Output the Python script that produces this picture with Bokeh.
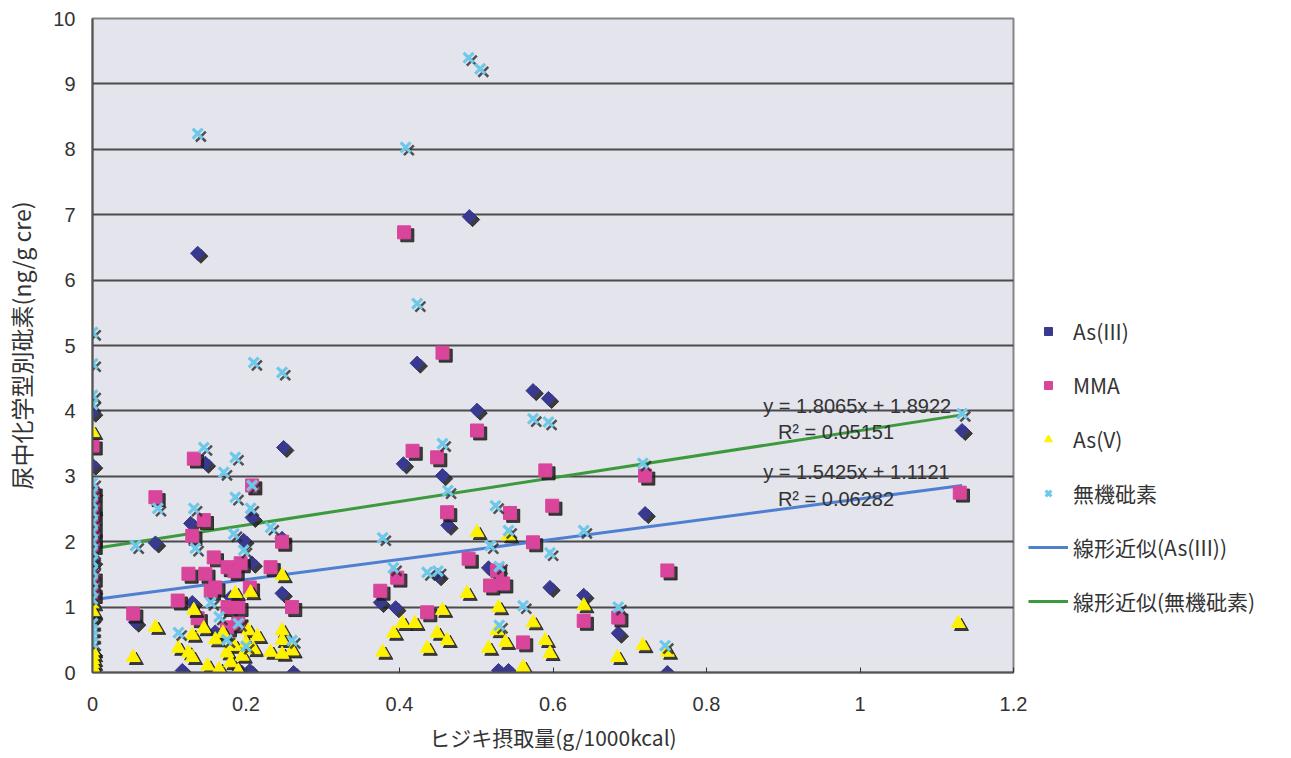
import math
from bokeh.plotting import figure
from bokeh.models import (ColumnDataSource, Legend, LegendItem, Label, Range1d,
                          FixedTicker, CustomJSTickFormatter)
from bokeh.transform import dodge
from bokeh.embed import file_html
from bokeh.resources import INLINE

# ---------------- data ----------------
as3_x = [0, 0, 0, 0, 0, 0, 0, 0,
         0.056, 0.082, 0.117, 0.128, 0.13, 0.137, 0.147, 0.16, 0.18, 0.19, 0.197, 0.205,
         0.208, 0.208, 0.249, 0.247, 0.247, 0.262, 0.375, 0.395, 0.405, 0.423, 0.45, 0.456,
         0.463, 0.491, 0.501, 0.516, 0.529, 0.542, 0.574, 0.594, 0.596, 0.64, 0.685, 0.72,
         0.749, 1.133]
as3_y = [3.98, 3.17, 2.75, 2.45, 1.7, 1.25, 0.85, 0.3,
         0.77, 1.98, 0.03, 2.28, 1.07, 6.41, 3.2, 0.62, 1.15, 0.05, 2.02, 0.03,
         1.67, 2.37, 3.44, 2.05, 1.21, 0.0, 1.07, 0.99, 3.19, 4.73, 1.48, 3.01,
         2.25, 6.97, 4.01, 1.6, 0.03, 0.03, 4.31, 4.19, 1.3, 1.18, 0.6, 2.43,
         0.0, 3.7]

mma_x = [0, 0, 0, 0, 0, 0, 0, 0, 0,
         0.053, 0.082, 0.111, 0.125, 0.13, 0.132, 0.137, 0.145, 0.147, 0.154, 0.158, 0.16,
         0.175, 0.176, 0.176, 0.185, 0.19, 0.193, 0.19, 0.205, 0.208, 0.232, 0.247, 0.26,
         0.375, 0.397, 0.406, 0.417, 0.436, 0.449, 0.456, 0.462, 0.49, 0.501, 0.518, 0.527,
         0.535, 0.544, 0.561, 0.574, 0.59, 0.599, 0.64, 0.685, 0.72, 0.749, 1.13]
mma_y = [3.47, 2.75, 2.55, 2.4, 2.2, 2.05, 1.95, 1.45, 1.2,
         0.9, 2.68, 1.1, 1.51, 2.09, 3.27, 0.83, 2.33, 1.51, 1.25, 1.76, 1.3,
         0.69, 1.61, 1.0, 1.55, 0.75, 1.67, 1.0, 1.3, 2.86, 1.61, 2.0, 1.0,
         1.25, 1.45, 6.73, 3.39, 0.92, 3.29, 4.89, 2.45, 1.74, 3.7, 1.33, 1.56,
         1.36, 2.44, 0.46, 1.99, 3.09, 2.55, 0.79, 0.84, 3.01, 1.56, 2.75]

as5_x = [0, 0, 0, 0, 0, 0, 0, 0, 0,
         0.053, 0.082, 0.112, 0.125, 0.13, 0.13, 0.132, 0.145, 0.15, 0.16, 0.165, 0.17,
         0.175, 0.18, 0.185, 0.186, 0.19, 0.195, 0.2, 0.203, 0.206, 0.21, 0.215, 0.232,
         0.247, 0.247, 0.247, 0.247, 0.26, 0.378, 0.392, 0.404, 0.42, 0.436, 0.449, 0.456,
         0.462, 0.488, 0.501, 0.516, 0.527, 0.529, 0.538, 0.542, 0.561, 0.574, 0.59, 0.596,
         0.64, 0.684, 0.717, 0.749, 1.128]
as5_y = [0.02, 0.08, 0.14, 0.2, 0.27, 0.33, 0.93, 1.05, 3.67,
         0.23, 0.69, 0.37, 0.3, 0.23, 0.57, 0.95, 0.67, 0.1, 0.5, 0.05, 0.6,
         0.3, 0.15, 0.4, 1.21, 0.02, 0.25, 0.45, 0.64, 1.22, 0.35, 0.55, 0.31,
         0.64, 0.49, 1.48, 0.28, 0.33, 0.31, 0.6, 0.75, 0.75, 0.37, 0.6, 0.95,
         0.49, 1.21, 2.14, 0.37, 0.64, 0.99, 0.46, 2.09, 0.08, 0.76, 0.49, 0.29,
         1.02, 0.23, 0.41, 0.31, 0.75]

inorg_x = [0, 0, 0, 0, 0, 0, 0, 0, 0, 0, 0, 0, 0, 0, 0, 0, 0, 0, 0, 0, 0,
           0.056, 0.085, 0.112, 0.132, 0.134, 0.137, 0.145, 0.154, 0.165, 0.171, 0.175, 0.184,
           0.186, 0.186, 0.19, 0.197, 0.2, 0.206, 0.208, 0.21, 0.232, 0.247, 0.26, 0.378,
           0.392, 0.408, 0.423, 0.436, 0.45, 0.456, 0.463, 0.49, 0.505, 0.518, 0.525, 0.53,
           0.53, 0.542, 0.561, 0.574, 0.594, 0.596, 0.64, 0.685, 0.717, 0.746, 1.133]
inorg_y = [0.45, 0.55, 0.65, 0.75, 1.12, 1.25, 1.4, 1.55, 1.7, 1.85, 2.0, 2.15, 2.3, 2.45,
           2.6, 2.75, 2.9, 4.1, 4.24, 4.72, 5.2,
           1.94, 2.51, 0.61, 2.51, 1.9, 8.24, 3.44, 1.07, 0.85, 3.06, 0.5, 2.12,
           3.29, 2.68, 0.75, 1.87, 0.4, 2.51, 2.86, 4.74, 2.22, 4.59, 0.49, 2.06,
           1.6, 8.03, 5.64, 1.53, 1.55, 3.5, 2.78, 9.4, 9.23, 1.94, 2.55, 1.62,
           0.72, 2.17, 1.02, 3.88, 3.83, 1.83, 2.17, 1.0, 3.2, 0.41, 3.96]

series_names = ["As(III)", "MMA", "As(V)", "無機砒素"]
trend_names = ["線形近似(As(III))", "線形近似(無機砒素)"]
as3_slope, as3_intercept, as3_r2 = 1.5425, 1.1121, "0.06282"
inorg_slope, inorg_intercept, inorg_r2 = 1.8065, 1.8922, "0.05151"

x_ticks = [0, 0.2, 0.4, 0.6, 0.8, 1.0, 1.2]
y_ticks = [0, 1, 2, 3, 4, 5, 6, 7, 8, 9, 10]
x_label = "ヒジキ摂取量(g/1000kcal)"
y_label = "尿中化学型別砒素(ng/g cre)"

# ---------------- figure ----------------
p = figure(frame_width=921, frame_height=654, x_range=Range1d(0, 1.2), y_range=Range1d(0, 10),
           output_backend="svg", toolbar_location=None,
           min_border_left=92, min_border_right=0, min_border_top=18, min_border_bottom=86)
p.background_fill_color = "#E4E4EC"
p.border_fill_color = "white"
p.outline_line_color = "#858585"
p.outline_line_width = 2

p.xgrid.visible = False
p.ygrid.ticker = FixedTicker(ticks=y_ticks)
p.ygrid.grid_line_color = "#3a3a3a"
p.ygrid.grid_line_width = 2
p.ygrid.grid_line_alpha = 0.9

tick_font = "Liberation Sans"
p.xaxis.ticker = FixedTicker(ticks=x_ticks)
p.xaxis.formatter = CustomJSTickFormatter(code="return Number(tick.toFixed(1)).toString();")
p.yaxis.ticker = FixedTicker(ticks=y_ticks)
for ax in (p.xaxis[0], p.yaxis[0]):
    ax.major_label_text_font = tick_font
    ax.major_label_text_font_size = "20px"
    ax.major_label_text_color = "#333333"
    ax.axis_line_color = "#555555"
    ax.axis_line_width = 2
    ax.minor_tick_line_color = None
    ax.axis_label_text_font = "Noto Sans CJK JP"
    ax.axis_label_text_font_style = "normal"
    ax.axis_label_text_color = "#333333"
p.xaxis.axis_label_text_font_size = "21px"
p.yaxis.axis_label_text_font_size = "23px"
p.xaxis.major_tick_in = 5
p.xaxis.major_tick_out = 0
p.xaxis.major_tick_line_color = "#333333"
p.yaxis.major_tick_in = 0
p.yaxis.major_tick_out = 0
p.xaxis.major_label_standoff = 24
p.yaxis.major_label_standoff = 17
p.xaxis.axis_label = x_label
p.yaxis.axis_label = y_label
p.xaxis.axis_label_standoff = 8
p.yaxis.axis_label_standoff = 12

# ---------------- trend lines ----------------
as3_xmax = max(as3_x)
inorg_xmax = max(inorg_x)
tr1 = p.line([0, as3_xmax], [as3_intercept, as3_slope * as3_xmax + as3_intercept],
             line_color="#4F7FD0", line_width=3)
tr2 = p.line([0, inorg_xmax], [inorg_intercept, inorg_slope * inorg_xmax + inorg_intercept],
             line_color="#3C9A3C", line_width=3)

# ---------------- scatter series with drop shadow ----------------
styles = [
    (as3_x, as3_y, "square", 10, math.pi / 4, "#39398F"),
    (mma_x, mma_y, "square", 13, 0, "#D8459A"),
    (as5_x, as5_y, "triangle", 14, 0, "#FFF200"),
    (inorg_x, inorg_y, "x", 14, 0, "#6EC8EA"),
]
renderers = []
for xs, ys, marker, size, angle, color in styles:
    src = ColumnDataSource(dict(x=xs, y=ys))
    sx = dodge("x", 0.0042, range=p.x_range)
    sy = dodge("y", -0.045, range=p.y_range)
    if marker == "x":
        p.scatter(x=sx, y=sy, source=src, marker="x", size=size,
                  line_color="#2a2a2a", line_width=2.5, line_alpha=0.8)
        r = p.scatter(x="x", y="y", source=src, marker="x", size=size,
                      line_color=color, line_width=3.2)
    else:
        p.scatter(x=sx, y=sy, source=src, marker=marker, size=size, angle=angle,
                  fill_color="#1e1e1e", line_color="#1e1e1e", alpha=0.85)
        r = p.scatter(x="x", y="y", source=src, marker=marker, size=size, angle=angle,
                      fill_color=color, line_color=color)
    renderers.append(r)

# ---------------- equations ----------------
eq_style = dict(text_font="Liberation Sans", text_font_size="20px", text_color="#333333",
                text_baseline="middle")
p.add_layout(Label(x=0.874, y=4.08, text=f"y = {inorg_slope}x + {inorg_intercept}", **eq_style))
p.add_layout(Label(x=0.893, y=3.67, text=f"R² = {inorg_r2}", **eq_style))
p.add_layout(Label(x=0.874, y=3.07, text=f"y = {as3_slope}x + {as3_intercept}", **eq_style))
p.add_layout(Label(x=0.893, y=2.66, text=f"R² = {as3_r2}", **eq_style))

# ---------------- legend ----------------
items = [LegendItem(label=n, renderers=[r]) for n, r in zip(series_names, renderers)]
items += [LegendItem(label=trend_names[0], renderers=[tr1]),
          LegendItem(label=trend_names[1], renderers=[tr2])]
legend = Legend(items=items, location=(15, 56), padding=0, margin=0,
                border_line_color=None, background_fill_alpha=0,
                glyph_width=40, glyph_height=20, label_height=20, spacing=24,
                label_standoff=5, label_text_font="Noto Sans CJK JP",
                label_text_font_size="21px", label_text_color="#333333")
p.add_layout(legend, "right")

open("out.html", "w").write(file_html(p, INLINE))
